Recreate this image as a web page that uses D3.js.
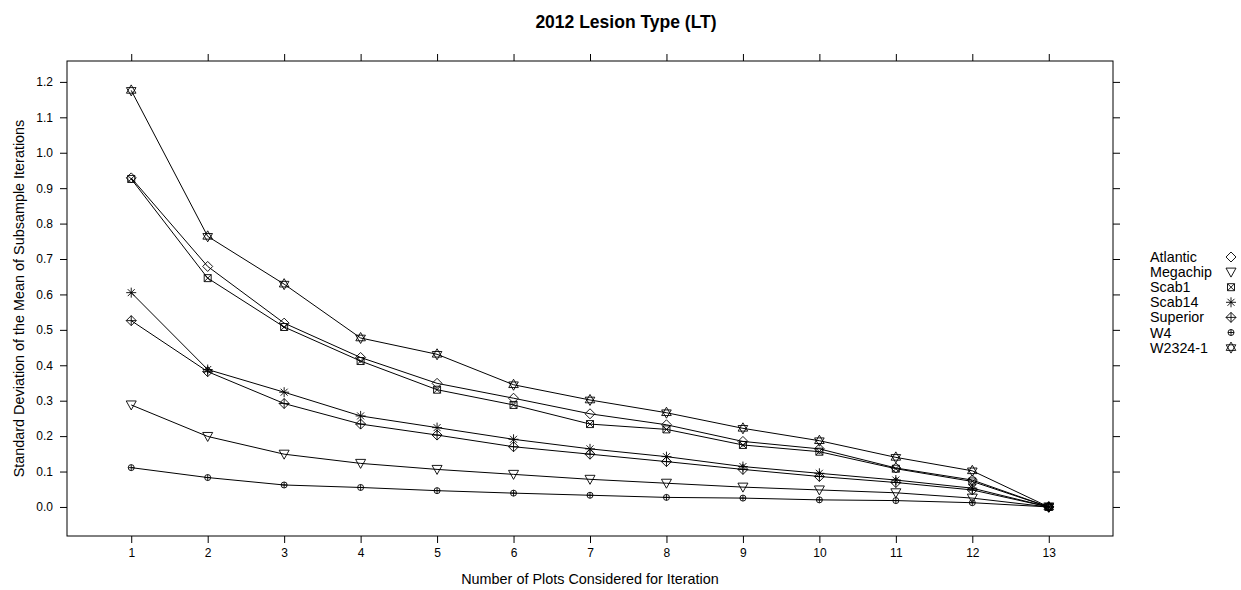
<!DOCTYPE html>
<html>
<head>
<meta charset="utf-8">
<script src="https://cdn.jsdelivr.net/npm/d3@7"></script>
<style>
  body { margin: 0; background: #fff; }
  text { font-family: "Liberation Sans", Arial, sans-serif; }
</style>
</head>
<body>
<svg width="1241" height="590"></svg>
<script>
// number of plots considered
var plots = [1,2,3,4,5,6,7,8,9,10,11,12,13];
var yTicks = [0.0,0.1,0.2,0.3,0.4,0.5,0.6,0.7,0.8,0.9,1.0,1.1,1.2];

var cultivars = ["Atlantic","Megachip","Scab1","Scab14","Superior","W4","W2324-1"];
var atlantic  = [0.929,0.679,0.519,0.422,0.349,0.307,0.263,0.232,0.185,0.164,0.110,0.076,0];
var megachip  = [0.288,0.199,0.149,0.123,0.106,0.092,0.078,0.067,0.056,0.048,0.040,0.025,0];
var scab1     = [0.926,0.646,0.508,0.412,0.331,0.288,0.234,0.219,0.175,0.156,0.108,0.072,0];
var scab14    = [0.605,0.388,0.324,0.257,0.224,0.191,0.164,0.142,0.114,0.095,0.076,0.053,0];
var superior  = [0.526,0.382,0.292,0.234,0.203,0.170,0.149,0.128,0.106,0.086,0.069,0.048,0];
var w4        = [0.111,0.083,0.062,0.055,0.046,0.039,0.033,0.027,0.025,0.020,0.018,0.012,0];
var w2324     = [1.176,0.764,0.629,0.477,0.431,0.345,0.302,0.266,0.222,0.187,0.140,0.102,0];

var seriesVals = [atlantic, megachip, scab1, scab14, superior, w4, w2324];

var svg = d3.select("svg");

var box = {left: 67, right: 1113, top: 61, bottom: 536};

var x = d3.scaleLinear().domain([0.16, 13.84]).range([box.left, box.right]);
var y = d3.scaleLinear().domain([-0.082, 1.259]).range([box.bottom, box.top]);

// marker shapes, lattice style
var shapes = {
  "Atlantic": "M0,-5L5,0L0,5L-5,0Z",
  "Megachip": "M-5,-4L5,-4L0,5Z",
  "Scab1": "M-3.5,-3.5H3.5V3.5H-3.5ZM-3.5,-3.5L3.5,3.5M3.5,-3.5L-3.5,3.5",
  "Scab14": "M0,-5V5M-5,0H5M-3.5,-3.5L3.5,3.5M3.5,-3.5L-3.5,3.5",
  "Superior": "M0,-5L5,0L0,5L-5,0ZM0,-5V5M-5,0H5",
  "W4": "M-3,0A3,3 0 1,0 3,0A3,3 0 1,0 -3,0M0,-3V3M-3,0H3",
  "W2324-1": "M0,-5.5L4.8,2.8L-4.8,2.8ZM0,5.5L4.8,-2.8L-4.8,-2.8Z"
};

// frame
svg.append("rect")
  .attr("x", box.left).attr("y", box.top)
  .attr("width", box.right - box.left).attr("height", box.bottom - box.top)
  .attr("fill", "none").attr("stroke", "#000");

var fmt = d3.format(".1f");

var leftAxis = d3.axisLeft(y).tickValues(yTicks).tickFormat(fmt).tickSize(7).tickPadding(7);
var rightAxis = d3.axisRight(y).tickValues(yTicks).tickFormat("").tickSize(7);
var bottomAxis = d3.axisBottom(x).tickValues(plots).tickFormat(d3.format("d")).tickSize(7).tickPadding(5);
var topAxis = d3.axisTop(x).tickValues(plots).tickFormat("").tickSize(7);

svg.append("g").attr("transform", "translate(" + box.left + ",0)").call(leftAxis);
svg.append("g").attr("transform", "translate(" + box.right + ",0)").call(rightAxis);
svg.append("g").attr("transform", "translate(0," + box.bottom + ")").call(bottomAxis);
svg.append("g").attr("transform", "translate(0," + box.top + ")").call(topAxis);

svg.selectAll(".domain").remove();
svg.selectAll(".tick line").attr("stroke", "#000");
svg.selectAll(".tick text").attr("fill", "#000").style("font-size", "12px")
  .style("font-family", "'Liberation Sans', Arial, sans-serif");

var line = d3.line()
  .x(function(d, i){ return x(plots[i]); })
  .y(function(d){ return y(d); });

cultivars.forEach(function(name, k){
  var vals = seriesVals[k];
  var g = svg.append("g").attr("class", "series");
  g.append("path")
    .attr("d", line(vals))
    .attr("fill", "none")
    .attr("stroke", "#000")
    .attr("stroke-width", 1);
  g.selectAll("path.pt")
    .data(vals)
    .enter()
    .append("path")
    .attr("class", "pt")
    .attr("d", shapes[name])
    .attr("transform", function(d, i){ return "translate(" + x(plots[i]) + "," + y(d) + ")"; })
    .attr("fill", "none")
    .attr("stroke", "#000")
    .attr("stroke-width", 0.9);
});

// legend
var leg = svg.append("g").attr("transform", "translate(1150,257)");
cultivars.forEach(function(name, k){
  leg.append("text")
    .attr("x", 0).attr("y", k * 15.1)
    .attr("dy", "0.35em")
    .style("font-size", "14.3px")
    .text(name);
  leg.append("path")
    .attr("d", shapes[name])
    .attr("transform", "translate(81," + (k * 15.1) + ")")
    .attr("fill", "none")
    .attr("stroke", "#000")
    .attr("stroke-width", 0.9);
});

// titles
svg.append("text")
  .attr("x", 626).attr("y", 28)
  .attr("text-anchor", "middle")
  .style("font-size", "17.5px").style("font-weight", "bold")
  .text("2012 Lesion Type (LT)");

svg.append("text")
  .attr("x", (box.left + box.right) / 2).attr("y", 584)
  .attr("text-anchor", "middle")
  .style("font-size", "14.4px")
  .text("Number of Plots Considered for Iteration");

svg.append("text")
  .attr("transform", "translate(24," + ((box.top + box.bottom) / 2) + ") rotate(-90)")
  .attr("text-anchor", "middle")
  .style("font-size", "14.4px")
  .text("Standard Deviation of the Mean of Subsample Iterations");
</script>
</body>
</html>
